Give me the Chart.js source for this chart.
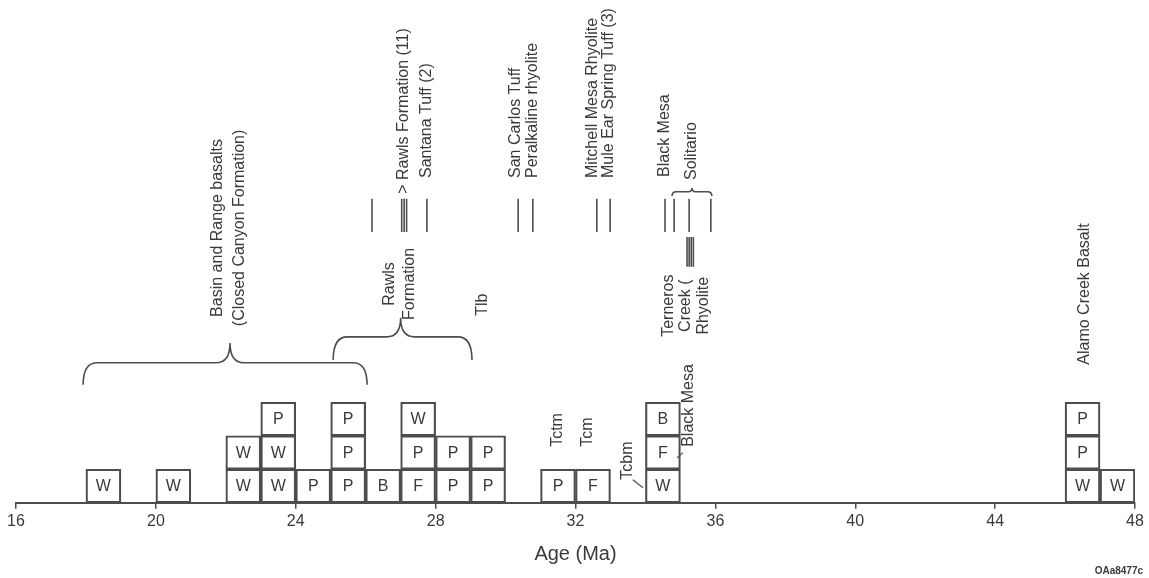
<!DOCTYPE html>
<html><head><meta charset="utf-8">
<script src="https://cdn.jsdelivr.net/npm/chart.js@4"></script>
<style>html,body{margin:0;padding:0;background:#fff}</style>
</head><body>
<canvas id="c" width="1149" height="578"></canvas>
<script>
// ---- data ----
const binStarts = [16,17,18,19,20,21,22,23,24,25,26,27,28,29,30,31,32,33,34,35,36,37,38,39,40,41,42,43,44,45,46,47];
const layer1Letters = ['','','W','','W','','W','W','P','P','B','F','P','P','','P','F','','W','','','','','','','','','','','','W','W'];
const layer2Letters = ['','','','','','','W','W','','P','','P','P','P','','','','','F','','','','','','','','','','','','P',''];
const layer3Letters = ['','','','','','','','P','','P','','W','','','','','','','B','','','','','','','','','','','','P',''];
const tickLabels = [16,20,24,28,32,36,40,44,48];
const datingAges = [26.18,27.03,27.10,27.17,27.75,30.36,30.78,32.61,32.99,34.56,34.82,35.25,35.87];
const ternerosAges = [35.19,35.25,35.31,35.37];

// ---- annotation layout (age in Ma, level in box units) ----
const datingSpan = [8.08, 9.07];
const ternerosSpan = [7.04, 7.93];
const braces = [
  {from:17.92, to:26.04, peak:22.12, end:3.52, bar:4.18, top:4.77},
  {from:25.07, to:29.04, peak:27.00, end:4.26, bar:4.95, top:5.52},
  {from:34.76, to:35.90, peak:35.33, end:9.15, bar:9.28, top:9.39}
];
const leaders = [
  {a:[33.64,0.69], b:[33.93,0.45]},
  {a:[35.07,1.49], b:[34.90,1.34]}
];
const labels = [
  {lines:['Basin and Range basalts','(Closed Canyon Formation)'], age:22.09, level:8.20, align:'center', gap:22},
  {lines:['Rawls','Formation'], age:26.98, level:6.53, align:'center', gap:20},
  {lines:['Tlb'], age:29.35, level:5.91, align:'center', gap:0},
  {lines:['> Rawls Formation (11)'], age:27.08, level:9.22, align:'left', gap:0},
  {lines:['Santana Tuff (2)'], age:27.75, level:9.69, align:'left', gap:0},
  {lines:['San Carlos Tuff','Peralkaline rhyolite'], age:30.54, level:9.69, align:'left', gap:17},
  {lines:['Mitchell Mesa Rhyolite','Mule Ear Spring Tuff (3)'], age:32.71, level:9.69, align:'left', gap:16},
  {lines:['Black Mesa'], age:34.56, level:9.72, align:'left', gap:0},
  {lines:['Solitario'], age:35.33, level:9.63, align:'left', gap:0},
  {lines:['Terneros','Creek (','Rhyolite'], age:35.16, level:5.88, align:'center', gap:17.5},
  {lines:['Alamo Creek Basalt'], age:46.57, level:4.12, align:'left', gap:0},
  {lines:['Tctm'], age:31.50, level:1.67, align:'left', gap:0},
  {lines:['Tcm'], age:32.36, level:1.67, align:'left', gap:0},
  {lines:['Tcbm'], age:33.50, level:0.69, align:'left', gap:0},
  {lines:['Black Mesa'], age:35.22, level:1.67, align:'left', gap:0}
];

const INK = '#3a3a3a';
const LINE = '#4d4d4d';
const FONT = '"Liberation Sans", Arial, sans-serif';

const annot = {
  id:'annot',
  afterDatasetsDraw(chart){
    const ctx = chart.ctx, xs = chart.scales.x2, ys = chart.scales.y;
    const X = v => xs.getPixelForValue(v), Y = v => ys.getPixelForValue(v);
    ctx.save();
    // box letters
    const letterSets = [layer1Letters, layer2Letters, layer3Letters];
    ctx.fillStyle = INK; ctx.font = '16px ' + FONT;
    ctx.textAlign = 'center'; ctx.textBaseline = 'middle';
    letterSets.forEach((set, i) => {
      const meta = chart.getDatasetMeta(i);
      meta.data.forEach((bar, j) => {
        if (set[j]) ctx.fillText(set[j], bar.x, (bar.y + bar.base) / 2 + 1);
      });
    });
    // dating lines
    ctx.strokeStyle = LINE; ctx.lineWidth = 1.6;
    datingAges.forEach(a => { ctx.beginPath(); ctx.moveTo(X(a), Y(datingSpan[0])); ctx.lineTo(X(a), Y(datingSpan[1])); ctx.stroke(); });
    ternerosAges.forEach(a => { ctx.beginPath(); ctx.moveTo(X(a), Y(ternerosSpan[0])); ctx.lineTo(X(a), Y(ternerosSpan[1])); ctx.stroke(); });
    // braces
    ctx.lineWidth = 1.6;
    braces.forEach(b => {
      const x0 = X(b.from), x1 = X(b.to), xm = X(b.peak);
      const ye = Y(b.end), yh = Y(b.bar), yp = Y(b.top);
      const r = Math.min(ye - yh, 14), r2 = Math.min(yh - yp, 14);
      ctx.beginPath();
      ctx.moveTo(x0, ye);
      ctx.quadraticCurveTo(x0, yh, x0 + r, yh);
      ctx.lineTo(xm - r2, yh);
      ctx.quadraticCurveTo(xm, yh, xm, yp);
      ctx.quadraticCurveTo(xm, yh, xm + r2, yh);
      ctx.lineTo(x1 - r, yh);
      ctx.quadraticCurveTo(x1, yh, x1, ye);
      ctx.stroke();
    });
    // leaders
    ctx.lineWidth = 1.2;
    leaders.forEach(l => { ctx.beginPath(); ctx.moveTo(X(l.a[0]), Y(l.a[1])); ctx.lineTo(X(l.b[0]), Y(l.b[1])); ctx.stroke(); });
    // rotated labels
    ctx.fillStyle = INK; ctx.font = '16px ' + FONT; ctx.textBaseline = 'middle';
    labels.forEach(lb => {
      const n = lb.lines.length;
      lb.lines.forEach((t, k) => {
        const off = (k - (n - 1) / 2) * lb.gap;
        ctx.save();
        ctx.translate(X(lb.age) + off, Y(lb.level));
        ctx.rotate(-Math.PI / 2);
        ctx.textAlign = lb.align;
        ctx.fillText(t, 0, 0);
        ctx.restore();
      });
    });
    // figure id
    ctx.font = 'bold 10px ' + FONT; ctx.textAlign = 'right'; ctx.textBaseline = 'alphabetic';
    ctx.fillText('OAa8477c', chart.width - 6, chart.height - 4);
    ctx.restore();
  }
};

const mk = (letters) => letters.map(l => l ? 1 : null);
const dsStyle = {backgroundColor:'rgba(255,255,255,0)', borderColor:LINE, borderWidth:1.5, borderSkipped:false, barPercentage:1, categoryPercentage:1};

new Chart(document.getElementById('c'), {
  type:'bar',
  data:{
    labels: binStarts.map(String),
    datasets:[
      Object.assign({label:'layer1', data:mk(layer1Letters)}, dsStyle),
      Object.assign({label:'layer2', data:mk(layer2Letters)}, dsStyle),
      Object.assign({label:'layer3', data:mk(layer3Letters)}, dsStyle)
    ]
  },
  options:{
    responsive:false, animation:false,
    layout:{padding:{left:16, right:14, top:0, bottom:12}},
    plugins:{legend:{display:false}, tooltip:{enabled:false}},
    scales:{
      x:{display:false, stacked:true, offset:true},
      x2:{type:'linear', position:'bottom', min:16, max:48, offset:false,
        afterBuildTicks: s => { s.ticks = tickLabels.map(v => ({value:v})); },
        grid:{display:true, offset:false, drawOnChartArea:false, drawTicks:true, tickLength:6, color:LINE, lineWidth:1.5},
        border:{display:true, color:LINE, width:2},
        ticks:{color:INK, font:{size:16, family:FONT}, padding:3, maxRotation:0, autoSkip:false},
        title:{display:true, text:'Age (Ma)', color:INK, font:{size:20, family:FONT}, padding:{top:8, bottom:0}}
      },
      y:{display:false, stacked:true, min:0, max:15}
    }
  },
  plugins:[annot]
});
</script>
</body></html>
